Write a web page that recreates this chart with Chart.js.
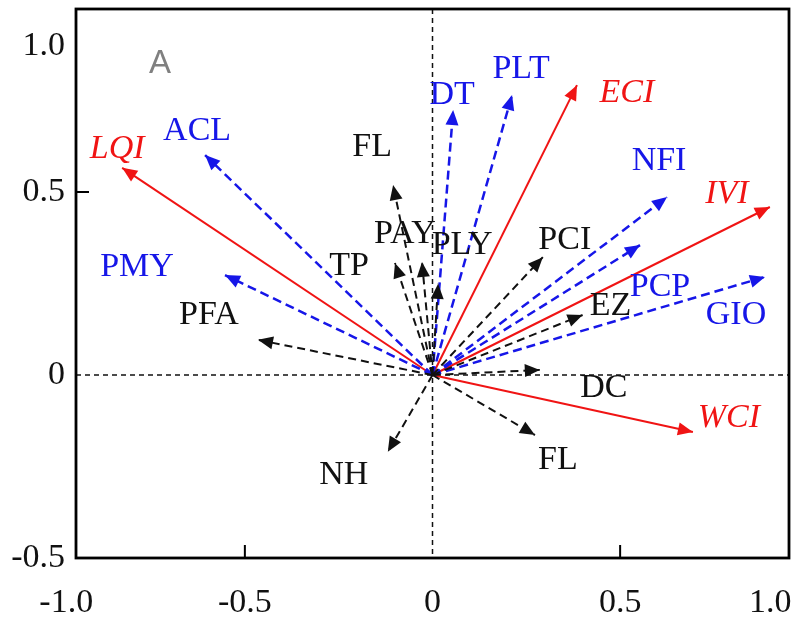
<!DOCTYPE html>
<html>
<head>
<meta charset="utf-8">
<script src="https://cdn.jsdelivr.net/npm/chart.js@4.4.1/dist/chart.umd.min.js"></script>
<style>
  html, body { margin: 0; padding: 0; background: #fff; }
</style>
</head>
<body>
<canvas id="rda" width="794" height="620"></canvas>
<script>
// red solid arrows
var redNames = ["LQI", "ECI", "IVI", "WCI"];
var redX = [-0.827, 0.385, 0.899, 0.694];
var redY = [0.566, 0.792, 0.459, -0.156];

// blue dashed arrows
var blueNames = ["ACL", "PMY", "DT", "PLT", "NFI", "PCP", "GIO"];
var blueX = [-0.606, -0.553, 0.055, 0.212, 0.625, 0.553, 0.886];
var blueY = [0.601, 0.273, 0.724, 0.765, 0.486, 0.355, 0.268];

// black dashed arrows
var blackNames = ["FL", "TP", "PAY", "PLY", "PCI", "EZ", "DC", "FL", "NH", "PFA"];
var blackX = [-0.105, -0.100, -0.028, 0.015, 0.294, 0.400, 0.286, 0.273, -0.119, -0.465];
var blackY = [0.519, 0.306, 0.309, 0.249, 0.322, 0.164, 0.014, -0.164, -0.210, 0.096];

var xTickValues = [-0.976, -0.5, 0, 0.5, 0.9];
var xTickLabels = ["-1.0", "-0.5", "0", "0.5", "1.0"];
var yTickValues = [-0.5, 0, 0.5, 0.9];
var yTickLabels = ["-0.5", "0", "0.5", "1.0"];

// label nudges in pixels from the arrow tip
var redOff = [[-5, -21], [50, 6], [-43, -15], [36, -16]];
var blueOff = [[-8, -26], [-88, -10], [-1, -17], [9, -28], [-8, -38], [20, 40], [-29, 36]];
var blackOff = [[-21, -40], [-46, 1], [-17, -30], [24, -41], [22, -19], [28, -11], [64, 16], [23, 23], [-44, 21], [-49, -27]];

var RED = "#f01414", BLUE = "#1616e8", BLACK = "#111111";
var serif = "'Liberation Serif', 'Times New Roman', serif";
var FS = 34;

var datasets = [];
var labelInfo = [];

function addGroup(names, xs, ys, offs, color, width, dash, italic) {
  for (var i = 0; i < names.length; i++) {
    datasets.push({
      label: names[i],
      data: [{x: 0, y: 0}, {x: xs[i], y: ys[i]}],
      showLine: true,
      borderColor: color,
      borderWidth: width,
      borderDash: dash,
      pointRadius: 0,
      fill: false
    });
    labelInfo.push({text: names[i], color: color, off: offs[i], italic: italic});
  }
}
addGroup(blackNames, blackX, blackY, blackOff, BLACK, 2, [8, 5], false);
addGroup(blueNames, blueX, blueY, blueOff, BLUE, 2.5, [9, 5], false);
addGroup(redNames, redX, redY, redOff, RED, 2, [], true);

var framePlugin = {
  id: 'frame',
  beforeDatasetsDraw: function(chart) {
    var ctx = chart.ctx, a = chart.chartArea;
    var x0 = chart.scales.x.getPixelForValue(0);
    var y0 = chart.scales.y.getPixelForValue(0);
    ctx.save();
    ctx.strokeStyle = BLACK;
    ctx.lineWidth = 1.5;
    ctx.setLineDash([5, 4]);
    ctx.beginPath();
    ctx.moveTo(a.left, y0); ctx.lineTo(a.right, y0);
    ctx.moveTo(x0, a.top); ctx.lineTo(x0, a.bottom);
    ctx.stroke();
    ctx.restore();
  },
  afterDraw: function(chart) {
    var ctx = chart.ctx, a = chart.chartArea;
    ctx.save();
    ctx.strokeStyle = "#000";
    ctx.lineWidth = 2.8;
    ctx.strokeRect(a.left, a.top, a.right - a.left, a.bottom - a.top);
    ctx.lineWidth = 2;
    ctx.beginPath();
    [-0.5, 0.5].forEach(function(v) {
      var px = chart.scales.x.getPixelForValue(v);
      ctx.moveTo(px, a.bottom); ctx.lineTo(px, a.bottom - 13);
    });
    var py = chart.scales.y.getPixelForValue(0.5);
    ctx.moveTo(a.left, py); ctx.lineTo(a.left + 13, py);
    ctx.stroke();
    // panel letter
    ctx.fillStyle = "#808080";
    ctx.font = "33px 'Liberation Sans', Arial, sans-serif";
    ctx.textAlign = "center";
    ctx.textBaseline = "alphabetic";
    ctx.fillText("A", a.left + 84, a.top + 64);
    ctx.restore();
  }
};

var arrowPlugin = {
  id: 'arrows',
  afterDatasetsDraw: function(chart) {
    var ctx = chart.ctx;
    chart.data.datasets.forEach(function(ds, i) {
      var pts = chart.getDatasetMeta(i).data;
      var a = pts[0], b = pts[1];
      var ang = Math.atan2(b.y - a.y, b.x - a.x);
      ctx.save();
      ctx.fillStyle = ds.borderColor;
      ctx.translate(b.x, b.y);
      ctx.rotate(ang);
      ctx.beginPath();
      ctx.moveTo(0, 0);
      ctx.lineTo(-15, -6.5);
      ctx.lineTo(-15, 6.5);
      ctx.closePath();
      ctx.fill();
      ctx.restore();
    });
    chart.data.datasets.forEach(function(ds, i) {
      var b = chart.getDatasetMeta(i).data[1];
      var info = labelInfo[i];
      ctx.save();
      ctx.fillStyle = info.color;
      ctx.font = (info.italic ? "italic " : "") + FS + "px " + serif;
      ctx.textAlign = "center";
      ctx.textBaseline = "alphabetic";
      ctx.fillText(info.text, b.x + info.off[0], b.y + info.off[1] + FS * 0.33);
      ctx.restore();
    });
  }
};

new Chart("rda", {
  type: "scatter",
  data: { datasets: datasets },
  options: {
    responsive: false,
    animation: false,
    devicePixelRatio: 1,
    layout: { padding: { top: 9, right: 5, left: 0, bottom: 0 } },
    plugins: { legend: { display: false }, tooltip: { enabled: false } },
    scales: {
      x: {
        type: "linear",
        min: -0.95,
        max: 0.95,
        grid: { display: false, drawTicks: false },
        border: { display: false },
        afterBuildTicks: function(s) { s.ticks = xTickValues.map(function(v) { return {value: v}; }); },
        afterFit: function(s) { s.height = 62; s.paddingLeft = 0; s.paddingRight = 0; },
        ticks: {
          autoSkip: false, maxRotation: 0, padding: 25, color: BLACK,
          font: { family: serif, size: FS },
          callback: function(v, idx) { return xTickLabels[idx]; }
        }
      },
      y: {
        type: "linear",
        min: -0.5,
        max: 1.0,
        grid: { display: false, drawTicks: false },
        border: { display: false },
        afterBuildTicks: function(s) { s.ticks = yTickValues.map(function(v) { return {value: v}; }); },
        afterFit: function(s) { s.width = 76; s.paddingTop = 0; s.paddingBottom = 0; },
        ticks: {
          autoSkip: false, padding: 11, color: BLACK,
          font: { family: serif, size: FS },
          callback: function(v, idx) { return yTickLabels[idx]; }
        }
      }
    }
  },
  plugins: [framePlugin, arrowPlugin]
});
</script>
</body>
</html>
